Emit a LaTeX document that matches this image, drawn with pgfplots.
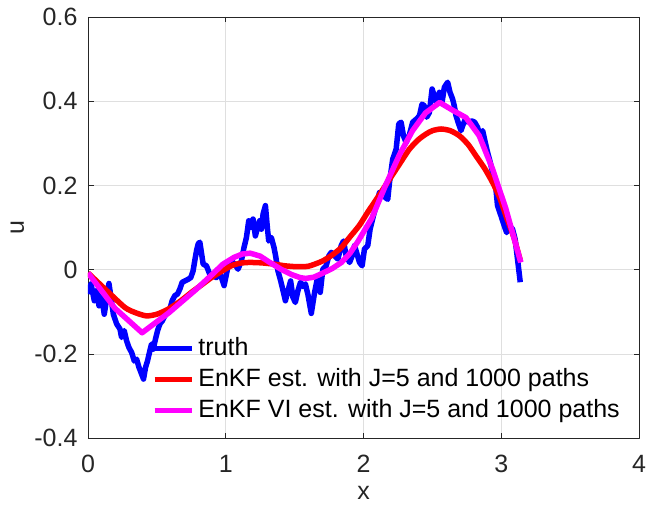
\documentclass[border=0pt]{standalone}
\usepackage{fontspec}
\setmainfont{Liberation Sans}
\usepackage{pgfplots}
\pgfplotsset{compat=1.18}
\definecolor{axgray}{RGB}{38,38,38}
\definecolor{gridgray}{RGB}{223,223,223}
\definecolor{mblue}{RGB}{0,0,255}
\definecolor{mred}{RGB}{255,0,0}
\definecolor{mmag}{RGB}{255,0,255}
\begin{document}
\fontsize{25bp}{30bp}\selectfont
\begin{tikzpicture}
\begin{axis}[
  name=ax,
  scale only axis,
  width=551bp, height=421bp,
  xmin=0, xmax=4, ymin=-0.4, ymax=0.6,
  xtick={0,1,2,3,4}, xticklabels={0,1,2,3,4},
  ytick={-0.4,-0.2,0,0.2,0.4,0.6}, yticklabels={-0.4,-0.2,0,0.2,0.4,0.6},
  tick align=inside, xtick pos=both, ytick pos=both,
  major tick length=5.5bp,
  axis line style={draw=axgray, line width=0.6bp},
  every tick/.style={draw=axgray, line width=0.6bp},
  grid=major,
  major grid style={draw=gridgray, line width=0.6bp},
  tick label style={font=\fontsize{25bp}{30bp}\selectfont, text=axgray},
  xticklabel style={yshift=-9bp},
  yticklabel style={xshift=-2bp},
  xlabel={x}, ylabel={u},
  every axis x label/.style={at={(axis description cs:0.5,-0.1315)}, anchor=center, inner sep=0pt, font=\fontsize{25bp}{30bp}\selectfont, text=axgray},
  every axis y label/.style={at={(axis description cs:-0.128,0.5)}, anchor=center, inner sep=0pt, rotate=90, font=\fontsize{25bp}{30bp}\selectfont, text=axgray},
  legend cell align=left,
  legend image code/.code={\draw[#1, line width=5.5bp] (0bp,0bp) -- (37bp,0bp);},
  legend style={at={(axis cs:0.464,-0.1603)}, anchor=north west, draw=none, fill=none,
    inner sep=0pt, outer sep=0pt, row sep=8bp,
    font=\fontsize{25bp}{30bp}\selectfont,
    nodes={inner sep=0pt, text height=18bp, text depth=5bp},
    /tikz/every odd column/.append style={column sep=4bp}},
  line join=round,
]
\addplot[mblue, line width=5.5bp, line join=round] coordinates {
(0.002,-0.058) (0.022,-0.034) (0.046,-0.074) (0.063,-0.050) (0.080,-0.086)
(0.099,-0.062) (0.118,-0.106) (0.135,-0.070) (0.152,-0.033) (0.167,-0.066)
(0.184,-0.106) (0.208,-0.129) (0.232,-0.141) (0.244,-0.161) (0.263,-0.145)
(0.280,-0.169) (0.297,-0.185) (0.317,-0.197) (0.336,-0.217) (0.353,-0.213)
(0.370,-0.232) (0.389,-0.248) (0.403,-0.260) (0.418,-0.232) (0.432,-0.217)
(0.449,-0.193) (0.461,-0.177) (0.473,-0.189) (0.490,-0.165) (0.505,-0.145)
(0.522,-0.129) (0.539,-0.122) (0.558,-0.110) (0.577,-0.098) (0.594,-0.094)
(0.611,-0.074) (0.630,-0.062) (0.650,-0.058) (0.667,-0.046) (0.684,-0.030)
(0.703,-0.027) (0.727,-0.023) (0.746,-0.019) (0.763,-0.003) (0.775,0.021)
(0.788,0.045) (0.800,0.061) (0.812,0.065) (0.836,0.013) (0.860,0.009)
(0.884,-0.011) (0.908,-0.015) (0.932,-0.019) (0.949,-0.003) (0.969,-0.019)
(0.988,-0.038) (1.005,-0.011) (1.017,0.009) (1.041,0.021) (1.065,0.013)
(1.089,0.001) (1.114,0.021) (1.133,0.053) (1.150,0.076) (1.167,0.116)
(1.181,0.100) (1.198,0.120) (1.215,0.080) (1.234,0.104) (1.246,0.116)
(1.259,0.096) (1.271,0.132) (1.288,0.152) (1.302,0.100) (1.312,0.068)
(1.331,0.076) (1.350,0.053) (1.362,0.033) (1.379,-0.003) (1.399,-0.027)
(1.416,-0.050) (1.433,-0.074) (1.452,-0.050) (1.471,-0.027) (1.488,-0.066)
(1.505,-0.078) (1.524,-0.050) (1.543,-0.030) (1.560,-0.040) (1.578,-0.034)
(1.597,-0.060) (1.621,-0.104) (1.645,-0.054) (1.669,-0.015) (1.686,-0.054)
(1.705,0.001) (1.729,0.009) (1.749,0.033) (1.766,0.041) (1.790,0.033)
(1.814,0.025) (1.838,0.057) (1.855,0.068) (1.874,0.033) (1.899,0.017)
(1.918,0.033) (1.935,0.057) (1.971,0.017) (1.990,0.009) (2.007,0.049)
(2.031,0.057) (2.048,0.096) (2.072,0.128) (2.092,0.152) (2.116,0.183)
(2.140,0.183) (2.159,0.171) (2.176,0.167) (2.188,0.205) (2.212,0.262)
(2.237,0.286) (2.256,0.346) (2.273,0.350) (2.290,0.318) (2.309,0.302)
(2.333,0.320) (2.357,0.350) (2.382,0.357) (2.406,0.365) (2.425,0.393)
(2.442,0.389) (2.459,0.362) (2.478,0.373) (2.498,0.429) (2.514,0.413)
(2.531,0.397) (2.551,0.421) (2.570,0.397) (2.587,0.433) (2.611,0.445)
(2.628,0.421) (2.647,0.405) (2.659,0.389) (2.672,0.365) (2.691,0.346)
(2.708,0.330) (2.720,0.342) (2.739,0.357) (2.763,0.350) (2.788,0.353)
(2.807,0.350) (2.828,0.338) (2.846,0.318) (2.865,0.330) (2.884,0.302)
(2.901,0.278) (2.920,0.255) (2.937,0.231) (2.957,0.207) (2.973,0.152)
(2.998,0.128) (3.022,0.104) (3.039,0.088) (3.058,0.104) (3.082,0.096)
(3.101,0.072) (3.118,0.025) (3.138,-0.030)
};
\addlegendentry{truth}
\addplot[mred, line width=5.5bp, smooth, tension=0.4] coordinates {
(0,-0.008) (0.123,-0.046) (0.268,-0.090) (0.35,-0.103) (0.425,-0.110)
(0.50,-0.106) (0.582,-0.094) (0.67,-0.075) (0.751,-0.054) (0.83,-0.035)
(0.896,-0.019) (0.97,-0.004) (1.04,0.009) (1.10,0.015) (1.17,0.017)
(1.26,0.016) (1.35,0.013) (1.43,0.009) (1.51,0.007) (1.60,0.008)
(1.70,0.020) (1.77,0.034) (1.838,0.052) (1.90,0.077) (1.97,0.105)
(2.03,0.136) (2.10,0.170) (2.17,0.205) (2.25,0.245) (2.333,0.286)
(2.40,0.309) (2.454,0.322) (2.50,0.330) (2.563,0.334) (2.63,0.330)
(2.696,0.318) (2.76,0.297) (2.817,0.270) (2.88,0.240) (2.937,0.207)
(2.99,0.170) (3.034,0.128) (3.09,0.078) (3.14,0.020)
};
\addlegendentry{EnKF est. with J=5 and 1000 paths}
\addplot[mmag, line width=5.5bp] coordinates {
(0,-0.008) (0.196,-0.092) (0.393,-0.150) (0.589,-0.102) (0.785,-0.047)
(0.90,-0.012) (0.98,0.013) (1.06,0.029) (1.12,0.037) (1.178,0.039)
(1.25,0.032) (1.32,0.017) (1.40,0.001) (1.48,-0.012) (1.54,-0.019)
(1.58,-0.021) (1.64,-0.018) (1.70,-0.009) (1.77,0.002) (1.84,0.017)
(1.90,0.038) (1.96,0.067) (2.06,0.122) (2.16,0.200) (2.26,0.272)
(2.356,0.330) (2.45,0.372) (2.553,0.397) (2.65,0.378) (2.744,0.361)
(2.84,0.318) (2.937,0.239) (3.034,0.144) (3.142,0.017)
};
\addlegendentry{EnKF VI est. with J=5 and 1000 paths}
\end{axis}
\pgfresetboundingbox
\path[use as bounding box] (ax.south west) ++(-88bp,-67bp) rectangle ++(647bp,505bp);
\end{tikzpicture}
\end{document}
